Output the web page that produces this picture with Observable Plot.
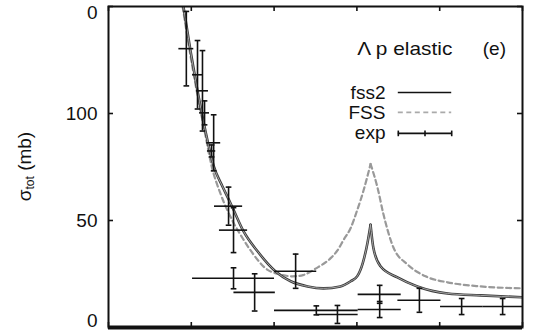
<!DOCTYPE html>
<html>
<head>
<meta charset="utf-8">
<script src="https://cdn.jsdelivr.net/npm/d3@7"></script>
<script src="https://cdn.jsdelivr.net/npm/@observablehq/plot@0.6"></script>
<style>
  html, body { margin: 0; padding: 0; background: #fff; }
  #chart svg { display: block; }
</style>
</head>
<body>
<div id="chart"></div>
<script>
// Λp elastic total cross section against Λ laboratory momentum (MeV/c)

// ΣN threshold, where both model curves show a cusp
const cuspP = 633;

// fss2 model curve
const fss2P     = [181, 198, 215, 234, 254, 275, 290, 302, 326, 360, 403, 440, 481, 519, 560, 585, 601, 614, 626, 633, 640, 657, 698, 746, 819, 899, 1000];
const fss2Sigma = [150, 129.4, 110.6, 91.9, 75.5, 66, 60, 55, 45, 35.6, 26.3, 21.6, 19.2, 18.3, 19.2, 21.6, 24, 30, 40, 48, 37, 28.6, 23.4, 19.2, 15.9, 15, 14.1];

// FSS model curve
const fssP      = [179, 196, 213, 232, 249, 271, 300, 324, 350, 379, 415, 444, 470, 500, 536, 553, 568, 585, 601, 616, 633, 650, 664, 688, 722, 766, 819, 899, 1000];
const fssSigma  = [150, 129.4, 110.6, 91.9, 75.5, 62.3, 49.7, 41.7, 34.2, 27.7, 24.8, 23.9, 24.5, 27.5, 32.3, 36, 41, 46.5, 55, 64, 76.4, 65.2, 53, 37.5, 29.5, 23.9, 21.1, 19.2, 18.3];

// experimental points
const expP        = [188, 215, 227, 232, 249, 254, 290, 302, 302, 353, 452, 502, 553, 655, 655, 751, 853, 952];
const expSigma    = [130.3, 118.1, 110.6, 100.3, 82.5, 86.3, 56.7, 45.5, 23, 16.4, 26.3, 8, 6.1, 15.5, 8.4, 12.7, 9.8, 9.8];
const expSigmaErr = [17.4, 16, 18.8, 5.6, 2.8, 13.1, 8.9, 10.5, 4.9, 8.7, 8, 2.1, 4.2, 4.2, 3.75, 5.6, 3.75, 3.75];
const expPErr     = [18, 12, 14.5, 12, 10, 17, 34, 34, 99, 50, 51, 101, 50, 52, 52, 52, 51, 48];

// axes
const xTicks = [0, 200, 400, 600, 800, 1000];
const yTicks = [0, 50, 100, 150];
const yTickLabels = ["0", "50", "100", "0"];

// legend
const legendTitle = "Λ p elastic";
const panelTag = "(e)";
const legendLabels = ["fss2", "FSS", "exp"];

// split a curve into the branches below and above the cusp so each is smoothed on its own
function branches(ps, ss) {
  const rows = [];
  ps.forEach((p, i) => {
    if (p <= cuspP) rows.push({p, s: ss[i], b: "below"});
    if (p >= cuspP) rows.push({p, s: ss[i], b: "above"});
  });
  return rows;
}
const fss2 = branches(fss2P, fss2Sigma);
const fss = branches(fssP, fssSigma);
const exp = expP.map((p, i) => ({p, s: expSigma[i], ds: expSigmaErr[i], dp: expPErr[i]}));
const yTickRows = yTicks.map((v, i) => ({v, label: yTickLabels[i]}));

const W = 543, H = 331;
const mL = 108, mR = 21, mT = 6, mB = 4;
const innerW = W - mL - mR, innerH = H - mT - mB;
const tickLen = 5;

// short bar symbols for error-bar caps
const hCap = {draw(ctx, size) { const w = Math.sqrt(size) / 2; ctx.moveTo(-w, 0); ctx.lineTo(w, 0); }};
const vCap = {draw(ctx, size) { const w = Math.sqrt(size) / 2; ctx.moveTo(0, -w); ctx.lineTo(0, w); }};

const ink = "#111";
const font = "'Liberation Sans', Arial, Helvetica, sans-serif";

const legendX1 = 700, legendX2 = 829, legendTextX = 669;
const legendY = [109.8, 100.5, 90.7];

const chart = Plot.plot({
  width: W,
  height: H,
  marginLeft: mL,
  marginRight: mR,
  marginTop: mT,
  marginBottom: mB,
  x: {domain: [0, 1000], axis: null},
  y: {domain: [0, 150], axis: null},
  style: {fontFamily: font, fontSize: "19px", color: ink, background: "#fff"},
  marks: [
    // FSS dashed curve
    Plot.line(fss, {x: "p", y: "s", z: "b", curve: "monotone-x", stroke: "#999", strokeWidth: 2.2, strokeDasharray: "5,3.5", clip: true}),
    // fss2 solid curve: dark rim, lighter core
    Plot.line(fss2, {x: "p", y: "s", z: "b", curve: "monotone-x", stroke: "#3a3a3a", strokeWidth: 2.6, clip: true}),
    Plot.line(fss2, {x: "p", y: "s", z: "b", curve: "monotone-x", stroke: "#b0b0b0", strokeWidth: 0.9, clip: true}),

    // experimental error bars
    Plot.ruleY(exp, {y: "s", x1: d => d.p - d.dp, x2: d => d.p + d.dp, stroke: ink, strokeWidth: 1.6}),
    Plot.ruleX(exp, {x: "p", y1: d => d.s - d.ds, y2: d => d.s + d.ds, stroke: ink, strokeWidth: 1.6}),
    Plot.dot(exp, {x: "p", y: d => d.s - d.ds, symbol: hCap, r: 3.2, stroke: ink, strokeWidth: 1.6}),
    Plot.dot(exp, {x: "p", y: d => d.s + d.ds, symbol: hCap, r: 3.2, stroke: ink, strokeWidth: 1.6}),

    // frame and inward ticks
    Plot.frame({stroke: ink, strokeWidth: 2}),
    Plot.ruleY([0], {stroke: ink, strokeWidth: 4}),
    Plot.tickX(xTicks, {x: d => d, insetTop: innerH - tickLen, stroke: ink, strokeWidth: 1.6}),
    Plot.tickX(xTicks, {x: d => d, insetBottom: innerH - tickLen, stroke: ink, strokeWidth: 1.6}),
    Plot.tickY(yTicks, {y: d => d, insetRight: innerW - tickLen, stroke: ink, strokeWidth: 1.6}),
    Plot.tickY(yTicks, {y: d => d, insetLeft: innerW - tickLen, stroke: ink, strokeWidth: 1.6}),

    // y tick labels; the end ones are nudged inward so they stay on the page
    Plot.text(yTickRows.slice(1, -1), {y: "v", text: "label", frameAnchor: "left", textAnchor: "end", dx: -11, fontSize: 19, fill: ink}),
    Plot.text(yTickRows.slice(0, 1), {y: "v", text: "label", frameAnchor: "left", textAnchor: "end", dx: -11, dy: -7, fontSize: 19, fill: ink}),
    Plot.text(yTickRows.slice(-1), {y: "v", text: "label", frameAnchor: "left", textAnchor: "end", dx: -11, dy: 6, fontSize: 19, fill: ink}),

    // key
    Plot.text([legendTitle], {x: 601, y: 130, textAnchor: "start", fontSize: 19, fill: ink, className: "key-title"}),
    Plot.text([panelTag], {x: 932, y: 130, fontSize: 19, fill: ink}),
    Plot.text(legendLabels, {x: legendTextX, y: (d, i) => legendY[i], textAnchor: "end", fontSize: 19, fill: ink}),
    Plot.ruleY([legendY[0]], {x1: legendX1, x2: legendX2, stroke: ink, strokeWidth: 1.6}),
    Plot.ruleY([legendY[1]], {x1: legendX1, x2: legendX2, stroke: "#aaa", strokeWidth: 1.8, strokeDasharray: "5,3.5"}),
    Plot.ruleY([legendY[2]], {x1: legendX1, x2: legendX2, stroke: ink, strokeWidth: 1.6}),
    Plot.dot([legendX1, (legendX1 + legendX2) / 2, legendX2], {x: d => d, y: legendY[2], symbol: vCap, r: 3.2, stroke: ink, strokeWidth: 1.6})
  ]
});

// keep the key title to a fixed run length
d3.select(chart).selectAll(".key-title text")
  .attr("textLength", 95)
  .attr("lengthAdjust", "spacingAndGlyphs");

// rotated y-axis title with a subscript
const svg = d3.select(chart);
const yTitle = svg.append("text")
  .attr("transform", `translate(26,${mT + innerH / 2}) rotate(-90)`)
  .attr("text-anchor", "middle")
  .attr("dominant-baseline", "middle")
  .attr("font-family", font)
  .attr("font-size", 19)
  .attr("fill", ink);
yTitle.append("tspan").text("σ");
yTitle.append("tspan").attr("font-size", 12).attr("dy", 5).text("tot");
yTitle.append("tspan").attr("dy", -5).text(" (mb)");

document.getElementById("chart").appendChild(chart);
</script>
</body>
</html>
